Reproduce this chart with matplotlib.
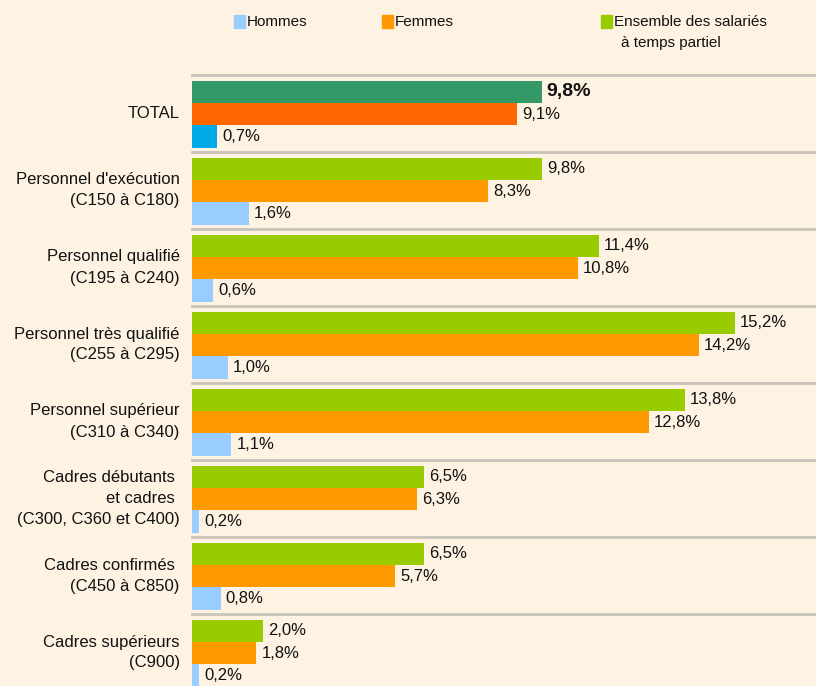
import matplotlib.pyplot as plt
import numpy as np

# Données
categories = [
    "TOTAL",
    "Personnel d'exécution\n(C150 à C180)",
    "Personnel qualifié\n(C195 à C240)",
    "Personnel très qualifié\n(C255 à C295)",
    "Personnel supérieur\n(C310 à C340)",
    "Cadres débutants \net cadres \n(C300, C360 et C400)",
    "Cadres confirmés \n(C450 à C850)",
    "Cadres supérieurs\n(C900)",
]
ensemble = [9.8, 9.8, 11.4, 15.2, 13.8, 6.5, 6.5, 2.0]
femmes = [9.1, 8.3, 10.8, 14.2, 12.8, 6.3, 5.7, 1.8]
hommes = [0.7, 1.6, 0.6, 1.0, 1.1, 0.2, 0.8, 0.2]

fond = "#FEF3E2"
c_ens, c_fem, c_hom = "#99CC00", "#FF9900", "#99CCFF"
c_ens_t, c_fem_t, c_hom_t = "#339966", "#FF6600", "#00AAE8"

plt.rcParams["font.family"] = ["Liberation Sans", "DejaVu Sans"]

fig = plt.figure(figsize=(8.16, 6.86), dpi=100, facecolor=fond)
ax = fig.add_axes([192 / 816, 0, 624 / 816, 611 / 686])
ax.set_facecolor(fond)

n = len(categories)
pos = np.arange(n)
h = 0.29
y_ens = pos + 0.22
y_fem = pos + 0.51
y_hom = pos + 0.80

col_ens = [c_ens_t] + [c_ens] * (n - 1)
col_fem = [c_fem_t] + [c_fem] * (n - 1)
col_hom = [c_hom_t] + [c_hom] * (n - 1)

ax.barh(y_ens, ensemble, height=h, color=col_ens, zorder=2)
ax.barh(y_fem, femmes, height=h, color=col_fem, zorder=2)
ax.barh(y_hom, hommes, height=h, color=col_hom, zorder=2)

# Étiquettes des valeurs
def fmt(v):
    return f"{v:.1f}%".replace(".", ",")

for i in range(n):
    series = ((y_ens[i], ensemble[i], True), (y_fem[i], femmes[i], False),
              (y_hom[i], hommes[i], False))
    for y, v, is_ens in series:
        gras = (i == 0 and is_ens)
        ax.text(v + 0.14, y, fmt(v), va="center", ha="left",
                fontsize=14 if gras else 12,
                fontweight="bold" if gras else "normal", color="#111111")

# Lignes de séparation
for i in range(n):
    ax.axhline(i, color="#C8C2BA", linewidth=2, zorder=1, clip_on=False)

# Libellés des catégories
for i, lab in enumerate(categories):
    ax.text(-0.34, pos[i] + 0.5, lab, ha="right", va="center", fontsize=12,
            linespacing=1.5, multialignment="right", color="#111111")

ax.set_xlim(0, 624 / 35.7)
ax.set_ylim(611 / 77, 0)
ax.axis("off")

# Légende
leg = [(234, c_hom, "Hommes"), (382, c_fem, "Femmes"),
       (601, c_ens, "Ensemble des salariés")]
for x, c, t in leg:
    fig.patches.append(plt.Rectangle((x / 816, 1 - 28 / 686), 11 / 816, 13 / 686,
                                     transform=fig.transFigure, color=c))
    fig.text((x + 13) / 816, 1 - 22 / 686, t, ha="left", va="center",
             fontsize=11, color="#111111")
fig.text(621 / 816, 1 - 43 / 686, "à temps partiel", ha="left", va="center",
         fontsize=11, color="#111111")

plt.savefig("out.png", dpi=100, facecolor=fond)
